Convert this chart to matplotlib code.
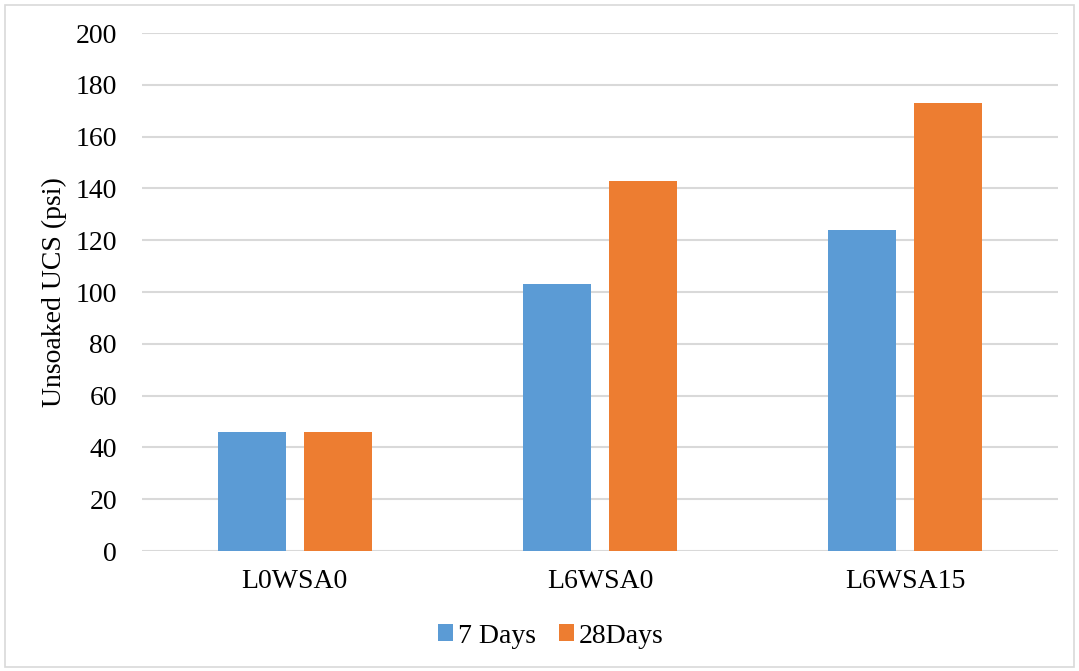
import numpy as np
import matplotlib.pyplot as plt
from matplotlib.patches import Rectangle

# mix designs and unsoaked strength results (psi)
mixes = ['L0WSA0', 'L6WSA0', 'L6WSA15']
days7 = [46, 103, 124]
days28 = [46, 143, 173]

blue = '#5b9bd5'
orange = '#ed7d31'
grid_grey = '#d9d9d9'

plt.rcParams['font.family'] = ['Liberation Serif', 'DejaVu Serif']

fig = plt.figure(figsize=(10.79, 6.71), dpi=100)
ax = fig.add_axes([0.1316, 0.1788, 0.8489, 0.772])

x = np.arange(len(mixes))
w = 0.223
off = 0.141
ax.bar(x - off, days7, w, color=blue, label='7 Days', zorder=3)
ax.bar(x + off, days28, w, color=orange, label='28Days', zorder=3)

ax.set_xlim(-0.5, 2.5)
ax.set_ylim(0, 200)
ax.set_yticks(np.arange(0, 201, 20))
ax.set_xticks(x)
ax.set_xticklabels(mixes)
ax.tick_params(axis='both', length=0, labelsize=20, colors='black')
ax.tick_params(axis='y', pad=18)
ax.tick_params(axis='x', pad=13)
ax.yaxis.grid(True, color=grid_grey, linewidth=1.5, zorder=0)
ax.set_axisbelow(True)
for s in ax.spines.values():
    s.set_visible(False)

ax.set_ylabel('Unsoaked UCS (psi)', fontsize=20, labelpad=6)

leg = fig.legend(loc='center', bbox_to_anchor=(0.5105, 0.052), ncol=2, frameon=False,
                 fontsize=20, handlelength=0.54, handleheight=0.54, handletextpad=0.2,
                 columnspacing=0.8)

# light border around the whole chart
fig.patches.append(Rectangle((0.005, 0.006), 0.99, 0.986, transform=fig.transFigure,
                             fill=False, edgecolor='#d9d9d9', linewidth=1.2))

fig.savefig('out.png', dpi=100)
